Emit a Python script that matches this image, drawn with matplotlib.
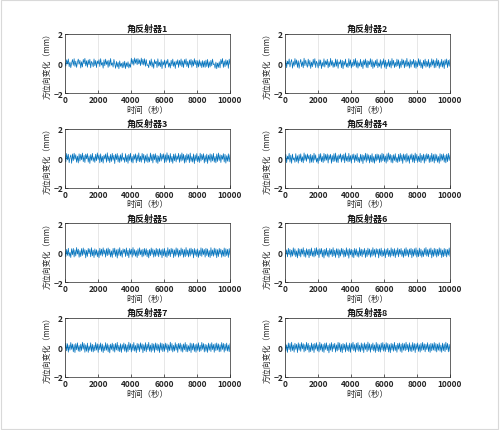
import numpy as np
import matplotlib
matplotlib.use("Agg")
import matplotlib.pyplot as plt
from matplotlib.patches import Rectangle

plt.rcParams['font.family'] = ['Noto Sans CJK SC', 'DejaVu Sans']

# displacement samples, in 0.01 mm (200 per record)
p1 = [6,-18,25,-4,31,-22,10,-29,3,27,-13,33,-20,16,-27,8,30,-6,22,-31,
      12,-24,28,-1,35,-17,19,-26,24,-9,29,-30,14,2,-23,31,-15,21,-28,17,
      -3,26,-21,33,-11,7,-32,25,-16,30,-7,18,-27,23,-19,34,-12,5,-25,28,
      -2,-33,14,-24,8,-36,18,-20,1,-30,10,-27,16,-35,5,-22,12,-31,-4,-26,
      36,-5,28,-12,38,2,31,-9,34,-3,25,-15,37,-7,29,-11,33,-19,26,-14,
      -8,-29,20,-14,31,-24,11,-33,26,-2,15,-28,32,-18,9,-22,27,-35,13,-10,
      24,-30,19,-6,29,-25,4,-31,22,-15,30,-20,12,-34,17,-9,26,-27,21,-13,
      31,-23,18,-28,27,-6,32,-21,14,-30,24,-10,29,-26,20,-17,33,-8,22,-29,
      19,-24,25,-18,13,-29,20,-25,17,-27,23,-21,28,-30,12,-24,22,-16,30,-8,
      -4,-32,10,-36,3,-27,12,-30,28,-3,34,-27,17,-22,26,-12,21,-33,30,-6]
p2 = [-14,22,-29,16,-5,31,-24,9,27,-32,13,-19,34,-8,25,-27,19,-33,4,28,
      -21,12,-30,36,-15,23,-6,-26,30,-18,21,-34,10,-23,29,-11,33,-28,15,-2,
      -31,26,-16,24,-35,7,-20,32,-25,18,-9,29,-30,13,-22,35,-13,20,-27,8,
      -24,31,-19,27,-33,11,-4,26,-29,22,-36,15,-12,30,-24,3,-28,33,-17,25,
      -31,9,-21,28,-14,34,-26,19,-32,6,-18,29,-23,14,-35,24,-10,31,-27,20,
      -30,16,-8,33,-22,26,-34,12,-25,21,-15,30,-29,5,-20,27,-33,18,-11,32,
      -26,23,-36,10,-19,28,-24,17,-31,34,-13,22,-28,8,-22,30,-16,25,-34,14,
      -27,31,-9,24,-30,19,-21,35,-18,11,-32,27,-25,16,-6,29,-28,21,-33,13,
      -23,33,-14,26,-29,7,-35,22,-17,30,-26,15,-20,28,-31,10,-24,32,-12,25,
      -30,19,-27,34,-16,23,-33,12,-21,29,-25,18,-35,26,-10,31,-28,22,-19,27]
p3 = [18,-26,32,-12,27,-31,5,22,-35,29,-17,34,-8,24,-28,14,-33,30,-20,26,
      -11,35,-24,19,-30,28,-4,31,-27,16,-36,25,-15,33,-22,10,-29,27,-18,36,
      -9,23,-32,30,-25,13,-34,21,-6,29,-28,37,-19,15,-31,26,-23,33,-14,20,
      -37,28,-10,32,-26,17,-30,24,-21,35,-13,6,-29,31,-24,19,-35,27,-16,34,
      -27,12,-33,25,-8,30,-31,22,-19,36,-25,14,-28,33,-12,27,-34,18,-22,29,
      -30,9,-26,35,-17,24,-33,28,-11,31,-29,20,-36,15,-23,34,-20,26,-7,30,
      -32,23,-27,37,-14,21,-30,32,-24,13,-35,28,-18,31,-26,16,-9,33,-29,24,
      -21,36,-15,27,-34,19,-28,30,-12,25,-31,35,-22,11,-27,29,-37,22,-17,32,
      -25,14,-30,34,-20,26,-11,31,-33,18,-24,28,-36,21,-15,30,-28,25,-19,33,
      -27,12,-32,29,-23,35,-16,24,-30,20,-8,31,-26,27,-34,17,-21,30,-25,22]
p4 = [-20,26,-31,14,-8,33,-27,21,-35,28,-12,3,-29,31,-23,17,-34,25,-18,30,
      -26,10,-32,36,-15,24,-22,29,-6,20,-33,27,-28,19,-30,34,-13,23,-27,1,
      -36,28,-17,32,-25,12,-30,33,-20,26,-14,29,-33,22,-9,27,-35,18,-24,31,
      -21,35,-28,16,-31,24,-4,30,-27,21,-15,28,-32,36,-19,13,-26,33,-23,18,
      -34,25,-10,29,-30,22,-17,32,-26,7,-31,27,-21,24,-37,19,-14,34,-28,30,
      -16,23,-33,20,-25,31,-29,11,-35,26,-20,29,-12,25,-31,23,-27,34,-18,28,
      -24,15,-34,30,-22,36,-11,26,-29,19,-33,24,-16,31,-26,8,-30,27,-23,33,
      -19,22,-36,29,-13,25,-28,32,-21,17,-35,24,-10,30,-27,21,-32,35,-17,26,
      -29,14,-24,33,-31,20,-15,28,-34,23,-20,31,-6,27,-30,18,-26,34,-22,25,
      -33,29,-18,24,-28,12,-35,31,-21,26,-14,30,-27,19,-32,28,-24,33,-16,21]
p5 = [11,-27,23,-18,31,-24,4,-33,28,-14,30,-29,20,-22,36,-9,25,-31,15,-26,
      29,-19,33,-12,22,-35,17,-25,30,-6,26,-28,35,-21,18,-33,27,-16,21,-27,
      14,-34,31,-17,25,-23,34,-10,19,-30,28,-20,33,-15,24,-29,13,-32,30,-12,
      32,-25,21,-36,26,-18,35,-22,16,-31,27,-3,24,-26,33,-20,18,-34,29,-11,
      25,-30,36,-17,22,-24,15,-33,27,-19,34,-13,20,-29,25,-23,30,-16,28,-27,
      17,-35,23,-21,33,-12,26,-30,19,-25,31,-18,24,-28,29,-15,21,-34,27,-20,
      30,-26,14,-32,35,-19,23,-27,31,-8,26,-33,20,-24,34,-16,28,-30,18,-22,
      33,-14,25,-31,22,-27,36,-18,19,-29,28,-23,32,-11,24,-35,30,-17,21,-26,
      27,-32,16,-20,34,-25,29,-13,23,-30,31,-19,26,-28,15,-33,35,-21,20,-24,
      32,-16,27,-34,22,-26,30,-10,25,-31,18,-23,33,-27,28,-19,24,-32,29,-15]
p6 = [-32,-12,20,-28,31,-14,24,-30,18,-23,34,-16,27,-27,13,-35,30,-21,25,-29,
      26,-10,35,-25,17,-31,28,-15,23,-34,25,-20,33,-24,12,-29,31,-22,35,-14,
      22,-33,28,-9,30,-28,19,-36,24,-17,32,-24,16,-31,29,-12,23,-27,35,-21,
      18,-32,28,-15,27,-35,20,-23,31,-11,26,-30,17,-26,34,-18,22,-37,29,-14,
      24,-29,19,-34,30,-16,27,-25,13,-31,36,-20,25,-28,21,-12,30,-33,18,-26,
      32,-15,26,-31,20,-24,35,-17,23,-30,29,-10,24,-35,27,-19,32,-27,16,-21,
      28,-34,22,-14,31,-26,17,-30,34,-20,25,-23,29,-33,19,-16,33,-28,24,-11,
      30,-25,15,-32,27,-22,35,-18,21,-29,26,-13,31,-34,23,-24,28,-17,34,-30,
      19,-27,32,-21,25,-31,14,-26,29,-15,36,-23,22,-28,27,-12,33,-35,20,-25,
      31,-18,26,-30,24,-22,34,-14,28,-33,19,-27,30,-20,25,-29,23,-16,33,-24]
p7 = [-8,29,-23,26,-32,17,-19,34,-13,24,-30,20,-35,27,-16,32,-25,14,-29,23,
      -21,36,-12,28,-33,18,-26,30,-34,11,-20,32,-28,22,-31,16,-23,34,-18,25,
      -34,21,-15,31,-27,24,-35,13,-22,33,-19,26,-30,17,-37,23,-14,30,-25,21,
      -32,28,-17,35,-24,15,-29,26,-34,20,-13,31,-26,23,-33,18,-28,36,-16,27,
      -31,21,-20,34,-25,14,-35,28,-18,24,-29,32,-12,25,-36,19,-23,33,-30,22,
      -15,35,-26,17,-32,29,-21,24,-34,31,-17,26,-24,20,-35,32,-19,28,-29,23,
      -27,30,-14,25,-33,18,-22,36,-20,27,-31,15,-25,33,-18,22,-34,28,-11,30,
      -26,19,-32,24,-16,34,-28,21,-30,13,-23,31,-35,26,-17,29,-27,20,-33,25,
      -20,32,-29,16,-24,35,-13,27,-31,22,-26,18,-34,30,-19,24,-28,33,-15,21,
      -33,26,-22,31,-18,25,-30,19,-27,34,-14,28,-32,23,-21,30,-25,17,-29,26]
p8 = [25,-26,18,-34,31,-15,27,-28,36,-21,17,-32,29,-13,22,-35,32,-19,24,-27,
      34,-10,26,-31,20,-23,35,-16,28,-33,15,-29,31,-20,23,-35,28,-12,33,-24,
      19,-31,36,-18,25,-28,21,-34,30,-14,32,-22,16,-37,26,-19,34,-29,23,-11,
      29,-32,18,-24,35,-17,31,-30,21,-36,28,-15,22,-31,33,-21,17,-28,30,-34,
      27,-13,36,-23,20,-32,29,-18,34,-27,16,-30,31,-20,24,-35,32,-14,23,-29,
      37,-19,26,-33,21,-16,31,-24,18,-34,35,-22,25,-29,19,-32,30,-17,34,-25,
      22,-28,33,-15,27,-31,20,-36,29,-18,24,-26,35,-21,16,-33,28,-12,31,-27,
      23,-34,30,-19,26,-23,36,-16,21,-30,32,-25,18,-29,34,-20,27,-35,24,-13,
      31,-27,19,-32,28,-21,35,-17,25,-30,22,-14,33,-28,20,-34,29,-23,26,-18,
      34,-24,27,-31,23,-19,32,-26,17,-33,30,-22,25,-29,36,-15,28,-30,21,-25]

series = [p1, p2, p3, p4, p5, p6, p7, p8]
titles = ['角反射器%d' % (i + 1) for i in range(8)]
xticks = [0, 2000, 4000, 6000, 8000, 10000]
yticks = [-2, 0, 2]

fig = plt.figure(figsize=(5.0, 4.31), dpi=100)
fig.patches.append(Rectangle((0.002, 0.002), 0.994, 0.995, transform=fig.transFigure,
                             fill=False, edgecolor='#d9d9d9', linewidth=0.8))

lefts = [0.13, 0.57]
bottoms = [0.7819, 0.5622, 0.3427, 0.1230]
w, h = 0.33, 0.137

for i, vals in enumerate(series):
    ax = fig.add_axes([lefts[i % 2], bottoms[i // 2], w, h])
    y = np.array(vals) / 100.0
    t = np.linspace(0, 10000, len(y))
    ax.plot(t, y, color='#0072BD', linewidth=0.5)
    ax.set_xlim(0, 10000)
    ax.set_ylim(-2, 2)
    ax.set_xticks(xticks)
    ax.set_yticks(yticks)
    ax.grid(True, color='#dddddd', linewidth=0.5)
    ax.set_axisbelow(True)
    ax.tick_params(direction='in', length=2, width=0.5, labelsize=6, pad=1.5,
                   colors='#262626')
    for lab in ax.get_xticklabels() + ax.get_yticklabels():
        lab.set_fontweight('bold')
    for s in ax.spines.values():
        s.set_linewidth(0.5)
        s.set_color('#262626')
    ax.set_title(titles[i], fontsize=6.5, fontweight='bold', pad=2, color='#1a1a1a')
    ax.set_xlabel('时间（秒）', fontsize=6, labelpad=0.5, color='#262626')
    ax.set_ylabel('方位向变化（mm）', fontsize=5.7, labelpad=1, color='#262626')

fig.savefig('out.png', dpi=100)
